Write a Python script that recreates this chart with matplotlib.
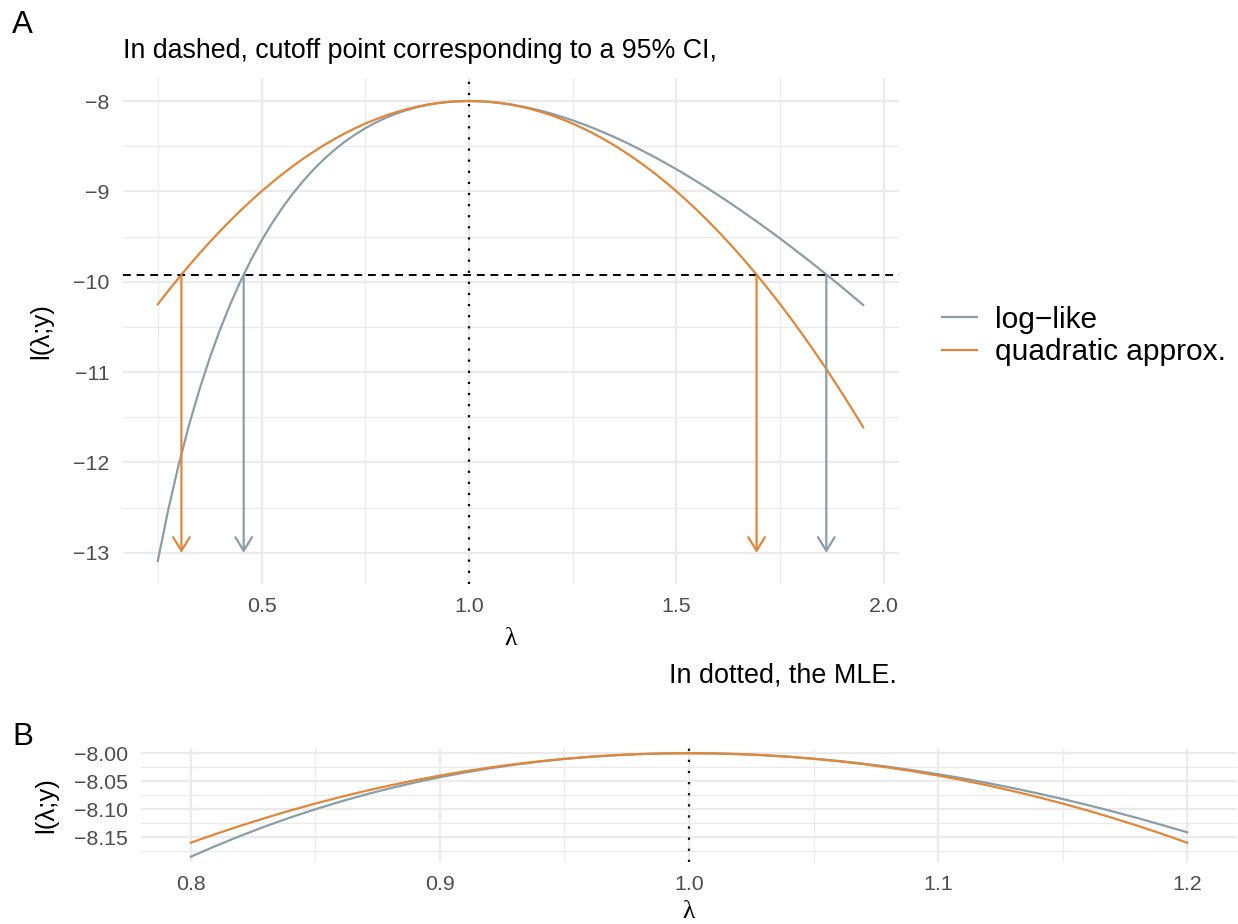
import matplotlib
matplotlib.use("Agg")
import matplotlib.pyplot as plt

plt.rcParams['font.family'] = ['Liberation Sans', 'DejaVu Sans']

# panel A: log-likelihood and its quadratic approximation
lam_a = [0.250, 0.275, 0.300, 0.325, 0.350, 0.375, 0.400, 0.425, 0.450, 0.475,
         0.500, 0.525, 0.550, 0.575, 0.600, 0.625, 0.650, 0.675, 0.700, 0.725,
         0.750, 0.775, 0.800, 0.825, 0.850, 0.875, 0.900, 0.925, 0.950, 0.975,
         1.000, 1.025, 1.050, 1.075, 1.100, 1.125, 1.150, 1.175, 1.200, 1.225,
         1.250, 1.275, 1.300, 1.325, 1.350, 1.375, 1.400, 1.425, 1.450, 1.475,
         1.500, 1.525, 1.550, 1.575, 1.600, 1.625, 1.650, 1.675, 1.700, 1.725,
         1.750, 1.775, 1.800, 1.825, 1.850, 1.875, 1.900, 1.925, 1.950]
loglik_a = [-13.090, -12.528, -12.032, -11.591, -11.199, -10.847, -10.530, -10.245,
            -9.988, -9.756, -9.545, -9.355, -9.183, -9.027, -8.887, -8.760, -8.646,
            -8.544, -8.453, -8.373, -8.301, -8.239, -8.185, -8.139, -8.100, -8.068,
            -8.043, -8.024, -8.010, -8.003, -8.000, -8.003, -8.010, -8.021, -8.038,
            -8.058, -8.082, -8.110, -8.141, -8.177, -8.215, -8.256, -8.301, -8.349,
            -8.399, -8.452, -8.508, -8.567, -8.627, -8.691, -8.756, -8.824, -8.894,
            -8.966, -9.040, -9.116, -9.194, -9.274, -9.355, -9.438, -9.523, -9.610,
            -9.698, -9.787, -9.879, -9.971, -10.065, -10.161, -10.257]
quad_a = [-10.250, -10.103, -9.960, -9.823, -9.690, -9.563, -9.440, -9.323, -9.210,
          -9.103, -9.000, -8.903, -8.810, -8.723, -8.640, -8.563, -8.490, -8.423,
          -8.360, -8.303, -8.250, -8.203, -8.160, -8.123, -8.090, -8.063, -8.040,
          -8.023, -8.010, -8.003, -8.000, -8.003, -8.010, -8.023, -8.040, -8.063,
          -8.090, -8.123, -8.160, -8.203, -8.250, -8.303, -8.360, -8.423, -8.490,
          -8.563, -8.640, -8.723, -8.810, -8.903, -9.000, -9.103, -9.210, -9.323,
          -9.440, -9.563, -9.690, -9.823, -9.960, -10.103, -10.250, -10.403, -10.560,
          -10.723, -10.890, -11.063, -11.240, -11.423, -11.610]

mle = 1.0
cutoff = -9.92
arrow_end = -13.0
ci_loglik = [0.457, 1.861]
ci_quad = [0.307, 1.693]

# panel B: zoom around the MLE
lam_b = [0.80, 0.81, 0.82, 0.83, 0.84, 0.85, 0.86, 0.87, 0.88, 0.89, 0.90,
         0.91, 0.92, 0.93, 0.94, 0.95, 0.96, 0.97, 0.98, 0.99, 1.00,
         1.01, 1.02, 1.03, 1.04, 1.05, 1.06, 1.07, 1.08, 1.09, 1.10,
         1.11, 1.12, 1.13, 1.14, 1.15, 1.16, 1.17, 1.18, 1.19, 1.20]
loglik_b = [-8.1851, -8.1658, -8.1476, -8.1306, -8.1148, -8.1002, -8.0866, -8.0741,
            -8.0627, -8.0523, -8.0429, -8.0345, -8.0271, -8.0206, -8.0150, -8.0103,
            -8.0066, -8.0037, -8.0016, -8.0004, -8.0000, -8.0004, -8.0016, -8.0035,
            -8.0062, -8.0097, -8.0138, -8.0187, -8.0243, -8.0306, -8.0375, -8.0451,
            -8.0534, -8.0623, -8.0718, -8.0819, -8.0926, -8.1040, -8.1159, -8.1284,
            -8.1414]
quad_b = [-8.1600, -8.1444, -8.1296, -8.1156, -8.1024, -8.0900, -8.0784, -8.0676,
          -8.0576, -8.0484, -8.0400, -8.0324, -8.0256, -8.0196, -8.0144, -8.0100,
          -8.0064, -8.0036, -8.0016, -8.0004, -8.0000, -8.0004, -8.0016, -8.0036,
          -8.0064, -8.0100, -8.0144, -8.0196, -8.0256, -8.0324, -8.0400, -8.0484,
          -8.0576, -8.0676, -8.0784, -8.0900, -8.1024, -8.1156, -8.1296, -8.1444,
          -8.1600]

GRAY = '#8B9DA5'
ORANGE = '#E0873A'
GRID = '#EBEBEB'
TICK = '#4D4D4D'

W, H = 1238, 924
fig = plt.figure(figsize=(W / 100, H / 100), dpi=100)


def px_axes(l, t, r, b):
    return fig.add_axes([l / W, 1 - b / H, (r - l) / W, (b - t) / H])


def style(ax, xmaj, xmin, ymaj, ymin, ylabels):
    for s in ax.spines.values():
        s.set_visible(False)
    ax.set_xticks(xmaj)
    ax.set_xticks(xmin, minor=True)
    ax.set_yticks(ymaj)
    ax.set_yticks(ymin, minor=True)
    ax.set_yticklabels(ylabels)
    ax.grid(True, which='major', color=GRID, lw=1.6, zorder=0)
    ax.grid(True, which='minor', color=GRID, lw=0.9, zorder=0)
    ax.tick_params(which='both', length=0, labelsize=15.4, labelcolor=TICK)
    ax.tick_params(axis='x', pad=9)
    ax.tick_params(axis='y', pad=9.5)
    ax.set_axisbelow(True)


# ---- panel A ----
ax1 = px_axes(122.5, 78, 898.5, 584)
l1, = ax1.plot(lam_a, loglik_a, color=GRAY, lw=1.6, label='log\u2212like')
l2, = ax1.plot(lam_a, quad_a, color=ORANGE, lw=1.6, label='quadratic approx.')
ax1.axhline(cutoff, color='black', lw=1.4, dashes=(4, 3))
ax1.axvline(mle, color='black', lw=1.6, linestyle=(0, (1, 4)))
for xs, col in [(ci_quad, ORANGE), (ci_loglik, GRAY)]:
    for x in xs:
        ax1.annotate('', xy=(x, arrow_end), xytext=(x, cutoff),
                     arrowprops=dict(arrowstyle='->,head_length=0.65,head_width=0.4',
                                     color=col, lw=1.6, shrinkA=0, shrinkB=0,
                                     mutation_scale=15))
ax1.set_xlim(0.165, 2.035)
ax1.set_ylim(-13.3445, -7.7455)
style(ax1, [0.5, 1.0, 1.5, 2.0], [0.25, 0.75, 1.25, 1.75],
      [-13, -12, -11, -10, -9, -8], [-12.5, -11.5, -10.5, -9.5, -8.5],
      ['\u221213', '\u221212', '\u221211', '\u221210', '\u22129', '\u22128'])

fig.legend(handles=[l1, l2], loc='center left', bbox_to_anchor=(942 / W, 1 - 336 / H),
           frameon=False, fontsize=21.5, handlelength=1.17, handletextpad=0.62,
           labelspacing=0.14, borderaxespad=0, borderpad=0)

fig.text(12 / W, 1 - 33 / H, 'A', fontsize=22.5, va='baseline', ha='left')
fig.text(123 / W, 1 - 58 / H, 'In dashed, cutoff point corresponding to a 95% CI,',
         fontsize=19.3, va='baseline', ha='left')
fig.text(897 / W, 1 - 683 / H, 'In dotted, the MLE.', fontsize=19.4,
         va='baseline', ha='right')
fig.text(510.5 / W, 1 - 645 / H, '\u03bb', fontsize=18.5, va='baseline', ha='center',
         family=['Liberation Serif', 'DejaVu Serif'])
fig.text(41 / W, 1 - 331 / H, 'l(\u03bb;y)', fontsize=18.5, va='center', ha='center',
         rotation=90)

# ---- panel B ----
ax2 = px_axes(141, 748, 1237, 862)
ax2.plot(lam_b, loglik_b, color=GRAY, lw=1.6)
ax2.plot(lam_b, quad_b, color=ORANGE, lw=1.6)
ax2.axvline(mle, color='black', lw=1.6, linestyle=(0, (1, 4)))
ax2.set_xlim(0.78, 1.22)
ax2.set_ylim(-8.1945, -7.9907)
style(ax2, [0.8, 0.9, 1.0, 1.1, 1.2], [0.85, 0.95, 1.05, 1.15],
      [-8.15, -8.10, -8.05, -8.00], [-8.175, -8.125, -8.075, -8.025],
      ['\u22128.15', '\u22128.10', '\u22128.05', '\u22128.00'])

fig.text(12 / W, 1 - 745 / H, 'B', fontsize=22.5, va='baseline', ha='left')
fig.text(689 / W, 1 - 918 / H, '\u03bb', fontsize=18.5, va='baseline', ha='center',
         family=['Liberation Serif', 'DejaVu Serif'])
fig.text(46 / W, 1 - 805 / H, 'l(\u03bb;y)', fontsize=18.5, va='center', ha='center',
         rotation=90)

fig.savefig('out.png', dpi=100)
